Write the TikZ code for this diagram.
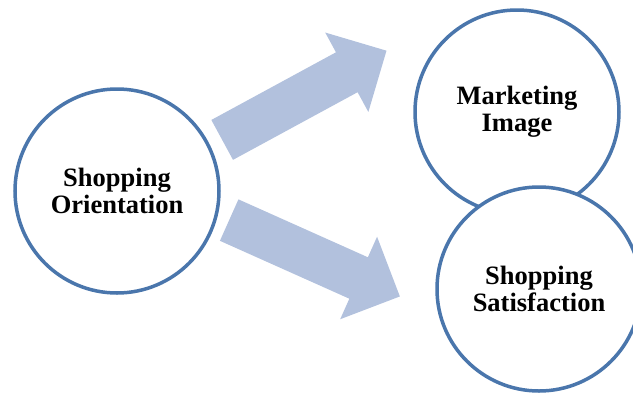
\documentclass[tikz,border=0pt]{standalone}
\usepackage{fontspec}
\setmainfont{Liberation Serif}
\usetikzlibrary{shapes.arrows}
\definecolor{bordbleu}{HTML}{4A76AC}
\definecolor{flechebleu}{HTML}{B2C1DD}
\begin{document}
\begin{tikzpicture}[x=1pt,y=1pt]
\tikzset{grosnoeud/.style={draw=bordbleu, line width=3.5pt, circle, fill=white, minimum size=204pt, align=center, font=\fontsize{26.5}{27}\selectfont\bfseries}}
\tikzset{fleche/.style={single arrow, fill=flechebleu, draw=none, inner sep=0pt, inner ysep=22.5pt, single arrow head extend=22.5pt, single arrow tip angle=90, minimum height=187pt, anchor=tail}}
\useasboundingbox (0,0) rectangle (633,-392);
\node[grosnoeud] (V1) at (117,-191) {Shopping\\Orientation};
\node[grosnoeud] (V2) at (517,-112) {Marketing\\Image};
\node[grosnoeud] (V3) at (539,-289) {Shopping\\Satisfaction};
\node[fleche, rotate=28.5] (F1) at (222,-140) {};
\node[fleche, rotate=-24.1] (F2) at (229,-220) {};
\end{tikzpicture}
\end{document}
